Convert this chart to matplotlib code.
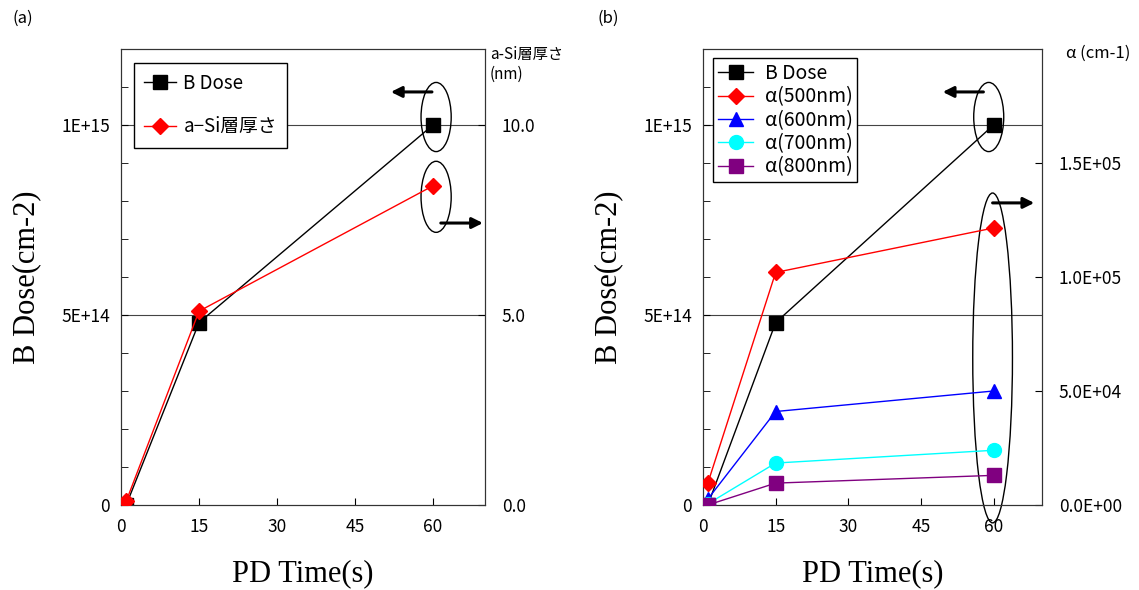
import matplotlib
matplotlib.use("Agg")
import matplotlib.pyplot as plt
from matplotlib.patches import Ellipse
from matplotlib.ticker import FixedLocator, MultipleLocator, FuncFormatter

plt.rcParams['font.family'] = ['Noto Sans CJK JP', 'DejaVu Sans']
plt.rcParams['axes.unicode_minus'] = False

# data
time = [1, 15, 60]
b_dose = [0.0, 4.8e14, 1.0e15]
asi_thick = [0.1, 5.1, 8.4]
alpha_500 = [9.6e3, 1.02e5, 1.215e5]
alpha_600 = [2.6e3, 4.1e4, 5.0e4]
alpha_700 = [5.0e2, 1.84e4, 2.4e4]
alpha_800 = [0.0, 9.6e3, 1.3e4]

xticks = [0, 15, 30, 45, 60]
dose_ticks = [0, 5e14, 1e15]
dose_labels = ['0', '5E+14', '1E+15']

serif = 'Liberation Serif'
tick_fs = 12.5
label_fs = 22


def setup_left(ax):
    ax.set_xlim(0, 70)
    ax.set_ylim(0, 1.2e15)
    ax.set_xticks(xticks)
    ax.yaxis.set_major_locator(FixedLocator(dose_ticks))
    ax.yaxis.set_minor_locator(MultipleLocator(1e14))
    ax.set_yticklabels(dose_labels)
    ax.tick_params(direction='in', labelsize=tick_fs, length=5, pad=8)
    ax.tick_params(axis='y', which='minor', direction='in', length=5)
    ax.tick_params(axis='x', pad=9)
    for y in dose_ticks[1:]:
        ax.axhline(y, color='#444444', lw=0.8, zorder=0)
    ax.set_xlabel('PD Time(s)', family=serif, fontsize=label_fs, labelpad=17)
    ax.set_ylabel('B Dose(cm-2)', family=serif, fontsize=label_fs, labelpad=14)
    for s in ax.spines.values():
        s.set_color('#333333')


def ellipse(ax, cx, cy, w, h):
    ax.add_patch(Ellipse((cx, cy), w, h, fill=False, ec='black', lw=1.0,
                         clip_on=False, zorder=6))


def arrow(ax, x0, x1, y):
    ax.annotate('', xy=(x1, y), xytext=(x0, y),
                arrowprops=dict(arrowstyle='-|>', color='black', lw=2.2,
                                mutation_scale=16, shrinkA=0, shrinkB=0),
                annotation_clip=False, zorder=7)


def sci(v, p):
    if v <= 0:
        return '0.0E+00'
    e = len(str(int(round(v)))) - 1
    return '%.1fE+%02d' % (v / 10 ** e, e)


fig = plt.figure(figsize=(11.39, 5.90), dpi=100)

# ---------------- (a) ----------------
ax1 = fig.add_axes([121 / 1139, 1 - 505 / 590, (485 - 121) / 1139, (505 - 49) / 590])
setup_left(ax1)
tw1 = ax1.twinx()
tw1.set_ylim(0, 12)
tw1.set_yticks([0, 5, 10])
tw1.yaxis.set_major_formatter(FuncFormatter(lambda v, p: '%.1f' % v))
tw1.tick_params(direction='in', labelsize=tick_fs, length=5, pad=12)
for s in tw1.spines.values():
    s.set_color('#333333')

l1, = ax1.plot(time, b_dose, color='black', lw=1.0, marker='s', ms=10,
               label='B Dose', zorder=5)
l2, = tw1.plot(time, asi_thick, color='red', lw=1.0, marker='D', ms=8,
               label='a−Si層厚さ', zorder=5)
leg = tw1.legend(handles=[l1, l2], loc='upper left', bbox_to_anchor=(0.035, 0.97),
                 borderaxespad=0, fancybox=False, edgecolor='black', framealpha=1,
                 fontsize=13.5, labelspacing=1.2, handlelength=1.7, handletextpad=0.4,
                 borderpad=0.55)
leg.get_frame().set_linewidth(1.0)

ellipse(ax1, 60.6, 1.021e15, 5.8, 0.182e15)
ellipse(ax1, 60.6, 0.811e15, 5.8, 0.187e15)
arrow(ax1, 59.8, 51.9, 1.087e15)
arrow(ax1, 61.5, 69.6, 0.742e15)

fig.text(490 / 1139, 1 - 46 / 590, 'a-Si層厚さ\n(nm)', fontsize=11, va='top',
         ha='left', linespacing=1.25)
fig.text(12 / 1139, 1 - 18 / 590, '(a)', fontsize=12, va='center', ha='left')

# ---------------- (b) ----------------
ax2 = fig.add_axes([703 / 1139, 1 - 505 / 590, (1042 - 703) / 1139, (505 - 49) / 590])
setup_left(ax2)
tw2 = ax2.twinx()
tw2.set_ylim(0, 2.0e5)
tw2.set_yticks([0, 5e4, 1e5, 1.5e5])
tw2.yaxis.set_major_formatter(FuncFormatter(sci))
tw2.tick_params(direction='in', labelsize=tick_fs, length=5, pad=12)
for s in tw2.spines.values():
    s.set_color('#333333')

h0, = ax2.plot(time, b_dose, color='black', lw=1.0, marker='s', ms=10,
               label='B Dose', zorder=5)
h1, = tw2.plot(time, alpha_500, color='#FF0000', lw=1.0, marker='D', ms=8,
               label='α(500nm)', zorder=5)
h2, = tw2.plot(time, alpha_600, color='#0000FF', lw=1.0, marker='^', ms=10,
               label='α(600nm)', zorder=5)
h3, = tw2.plot(time, alpha_700, color='#00FFFF', lw=1.0, marker='o', ms=10,
               label='α(700nm)', zorder=5)
h4, = tw2.plot(time, alpha_800, color='#800080', lw=1.0, marker='s', ms=10,
               label='α(800nm)', zorder=5)
leg2 = tw2.legend(handles=[h0, h1, h2, h3, h4], loc='upper left',
                  bbox_to_anchor=(0.03, 0.98), borderaxespad=0, fancybox=False,
                  edgecolor='black', framealpha=1, fontsize=14, labelspacing=0.12,
                  handlelength=1.8, handletextpad=0.6, borderpad=0.25)
leg2.get_frame().set_linewidth(1.0)

ellipse(ax2, 59.0, 1.021e15, 6.2, 0.182e15)
ellipse(ax2, 59.8, 0.387e15, 8.2, 0.868e15)
arrow(ax2, 57.9, 49.5, 1.087e15)
arrow(ax2, 59.8, 68.4, 0.795e15)

fig.text(1066 / 1139, 1 - 53 / 590, 'α (cm-1)', fontsize=12, va='center', ha='left')
fig.text(597 / 1139, 1 - 18 / 590, '(b)', fontsize=12, va='center', ha='left')

fig.savefig('out.png', dpi=100)
